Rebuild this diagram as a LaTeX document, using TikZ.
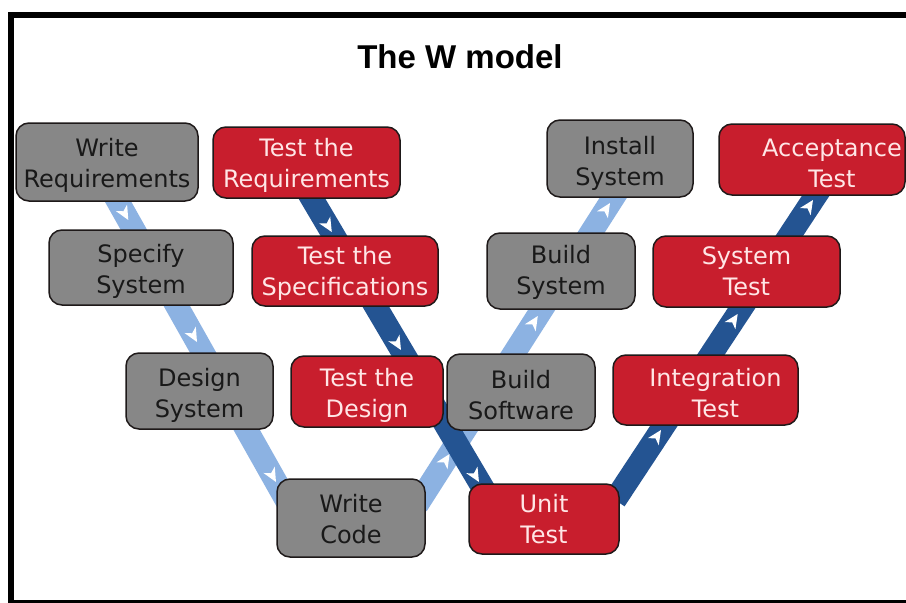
\documentclass[tikz,border=0pt]{standalone}
\usepackage{fontspec}
\setmainfont{DejaVu Sans}
\newfontfamily\titlefont{Liberation Sans}
\usetikzlibrary{decorations.markings}
\definecolor{boxgray}{RGB}{135,135,135}
\definecolor{boxred}{RGB}{200,30,45}
\definecolor{redtext}{RGB}{255,230,230}
\definecolor{bandlight}{RGB}{140,178,226}
\definecolor{banddark}{RGB}{36,84,146}
\definecolor{edgecol}{RGB}{30,25,25}
\begin{document}
\begin{tikzpicture}[x=1pt,y=-1pt,
  box/.style={rounded corners=13pt, draw=edgecol, line width=1.5pt, inner sep=0pt},
  graybox/.style={box, fill=boxgray},
  redbox/.style={box, fill=boxred},
  txt/.style={align=center, inner sep=0pt, font=\fontsize{24}{31}\selectfont},
  gtxt/.style={txt, text=black!90},
  rtxt/.style={txt, text=redtext},
  sz/.style 2 args={minimum width=#1pt, minimum height=#2pt},
  lightband/.style={line width=23pt, draw=bandlight},
  darkband/.style={line width=23pt, draw=banddark},
  chev/.style={decorate, decoration={markings, mark=at position 1 with
     {\fill[white] (0pt,0pt) -- (-14pt,6.5pt) -- (-10pt,0pt) -- (-14pt,-6.5pt) -- cycle;}}}
]
\useasboundingbox (0,0) rectangle (906,603);
\clip (0,0) rectangle (906,603);
\fill[white] (0,0) rectangle (906,603);

% frame
\draw[line width=6pt, line join=miter] (930,603) -- (11,603) -- (11,15) -- (930,15);

% title
\node (title) at (460,57) {\titlefont\bfseries\fontsize{33}{36}\selectfont The W model};

% band coordinates
\coordinate (LDs) at (103,175);
\coordinate (LDe) at (289,505);
\coordinate (LAs) at (417,505);
\coordinate (LAe) at (631,170);
\coordinate (DDs) at (295,170);
\coordinate (DDe) at (493,505);
\coordinate (DAs) at (615,500);
\coordinate (DAe) at (836,165);

% arrow tips
\coordinate (la1) at (128.3,220);
\coordinate (la2) at (197,342);
\coordinate (la3) at (276,482);
\coordinate (lb1) at (449.6,454);
\coordinate (lb2) at (537.8,316);
\coordinate (lb3) at (610,203);
\coordinate (da1) at (331.8,232);
\coordinate (da2) at (401,350);
\coordinate (da3) at (479,482);
\coordinate (db1) at (661,430);
\coordinate (db2) at (737.7,314);
\coordinate (db3) at (813,200);

% light bands
\draw[lightband] (LDs) -- (LDe);
\draw[lightband] (LAs) -- (LAe);
\path[chev] (LDs) -- (la1);
\path[chev] (LDs) -- (la2);
\path[chev] (LDs) -- (la3);
\path[chev] (LAs) -- (lb1);
\path[chev] (LAs) -- (lb2);
\path[chev] (LAs) -- (lb3);

% dark bands
\draw[darkband] (DDs) -- (DDe);
\draw[darkband] (DAs) -- (DAe);
\path[chev] (DDs) -- (da1);
\path[chev] (DDs) -- (da2);
\path[chev] (DDs) -- (da3);
\path[chev] (DAs) -- (db1);
\path[chev] (DAs) -- (db2);
\path[chev] (DAs) -- (db3);

% boxes
\node[graybox, sz={182}{78}] (wr)  at (107,162)     {};
\node[redbox,  sz={187}{71}] (tr)  at (306.5,162.5) {};
\node[graybox, sz={184}{75}] (ss)  at (141,267.5)   {};
\node[redbox,  sz={186}{70}] (ts)  at (345,271)     {};
\node[graybox, sz={147}{76}] (ds)  at (199.5,391)   {};
\node[redbox,  sz={152}{71}] (td)  at (367,391.5)   {};
\node[graybox, sz={148}{78}] (wc)  at (351,518)     {};
\node[redbox,  sz={150}{70}] (ut)  at (544,519)     {};
\node[graybox, sz={148}{76}] (bsw) at (521,392)     {};
\node[redbox,  sz={185}{70}] (it)  at (705.5,390)   {};
\node[graybox, sz={148}{76}] (bs)  at (561,271)     {};
\node[redbox,  sz={187}{71}] (st)  at (746.5,271.5) {};
\node[graybox, sz={146}{77}] (is)  at (620,158.5)   {};
\node[redbox,  sz={186}{71}] (at)  at (812,159.5)   {};

% box texts
\node[gtxt] (wrt)  at ([yshift=-3pt]wr.center)  {Write\\Requirements};
\node[rtxt] (trt)  at ([yshift=-3pt]tr.center)  {Test the\\Requirements};
\node[gtxt] (sst)  at ([yshift=-4pt]ss.center)  {Specify\\System};
\node[rtxt] (tst)  at ([yshift=-2pt]ts.center)  {Test the\\Specifications};
\node[gtxt] (dst)  at ([yshift=-4pt]ds.center)  {Design\\System};
\node[rtxt] (tdt)  at ([yshift=-4pt]td.center)  {Test the\\Design};
\node[gtxt] (wct)  at ([yshift=-1pt]wc.center)  {Write\\Code};
\node[rtxt] (utt)  at (ut.center)               {Unit\\Test};
\node[gtxt] (bswt) at ([yshift=-3pt]bsw.center) {Build\\Software};
\node[rtxt] (itt)  at ([xshift=10pt,yshift=-3pt]it.center) {Integration\\Test};
\node[gtxt] (bst)  at ([yshift=-1pt]bs.center)  {Build\\System};
\node[rtxt] (stt)  at (st.center)               {System\\Test};
\node[gtxt] (ist)  at ([yshift=-5pt]is.center)  {Install\\System};
\node[rtxt] (att)  at ([xshift=20pt,yshift=-4pt]at.center) {Acceptance\\Test};
\end{tikzpicture}
\end{document}
